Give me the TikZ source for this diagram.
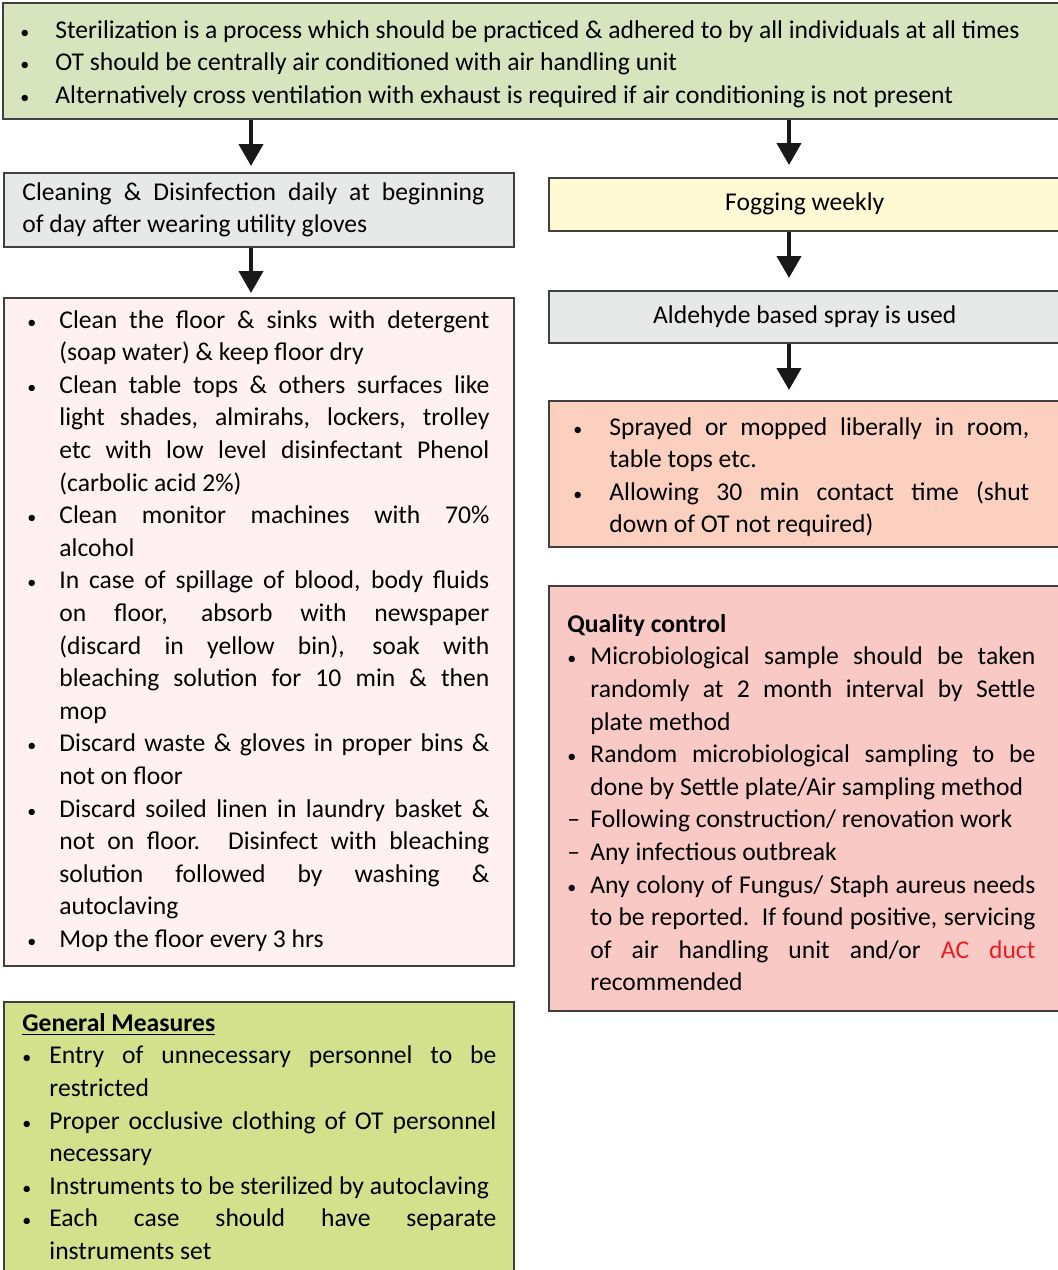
\documentclass[tikz,border=0pt]{standalone}
\usepackage{fontspec}
\setmainfont{Carlito}
\usepackage{enumitem}
\usetikzlibrary{positioning,arrows.meta}

\definecolor{framegrey}{RGB}{64,64,64}
\definecolor{topgreen}{RGB}{216,228,190}
\definecolor{cleangrey}{RGB}{231,233,232}
\definecolor{listpink}{RGB}{255,241,241}
\definecolor{fogyellow}{RGB}{255,250,211}
\definecolor{spraysalmon}{RGB}{251,208,191}
\definecolor{qcpink}{RGB}{249,201,198}
\definecolor{genlime}{RGB}{211,225,140}
\definecolor{ductred}{RGB}{237,28,36}

\newlist{ptlist}{itemize}{1}
\setlist[ptlist]{label={\small\textbullet}, labelindent=0pt, labelwidth=6pt, align=left,
  labelsep=*, itemsep=0pt, parsep=0pt, topsep=0pt, partopsep=0pt}
\newcommand{\dashmark}{\makebox[0pt][l]{\textendash}}

\tikzset{
    % boxes
    panel/.style={draw=framegrey, line width=0.75pt, anchor=north west,
                  inner sep=0pt, font=\fontsize{12.8}{16.3}\selectfont},
    % text inside the boxes
    words/.style={anchor=north west, inner sep=0pt, align=justify,
                  font=\fontsize{12.8}{16.3}\selectfont},
    % thick arrows
    arr/.style={-{Triangle[length=11pt,width=12pt]}, line width=2pt, draw=black!90}
}

\begin{document}
\begin{tikzpicture}[x=0.5pt, y=-0.5pt]
    \useasboundingbox (0,0) rectangle (1057,1270);
    \coordinate (leftcol) at (251,0);
    \coordinate (rightcol) at (789,0);

    % left column
    \node[panel, fill=topgreen, minimum width=530pt, minimum height=58pt] (top) at (2,2) {};
    \node[panel, fill=cleangrey, minimum width=255pt, minimum height=37pt] (clean) at (3,172) {};
    \node[panel, fill=listpink, minimum width=255pt, minimum height=334pt] (floor) at (3,297) {};
    \node[panel, fill=genlime, minimum width=255pt, minimum height=140pt] (general) at (3,1001) {};

    % right column
    \node[panel, fill=fogyellow, minimum width=256pt, minimum height=26.5pt] (fog) at (548,177) {Fogging weekly};
    \node[panel, fill=cleangrey, minimum width=256pt, minimum height=26pt] (aldehyde) at (548,290) {Aldehyde based spray is used};
    \node[panel, fill=spraysalmon, minimum width=256pt, minimum height=73pt] (sprayed) at (548,400) {};
    \node[panel, fill=qcpink, minimum width=256pt, minimum height=212.5pt] (quality) at (548,585) {};

    \node[words, text width=515pt] (toptext) at ([xshift=9pt,yshift=-1.5pt]top.north west) {%
      \begin{ptlist}[leftmargin=17.5pt]
        \item Sterilization is a process which should be practiced \& adhered to by all individuals at all times
        \item OT should be centrally air conditioned with air handling unit
        \item Alternatively cross ventilation with exhaust is required if air conditioning is not present
      \end{ptlist}};

    \node[words, text width=231pt] (cleantext) at ([xshift=9.5pt,yshift=-5pt]clean.north west) {%
      Cleaning \& Disinfection daily at beginning\linebreak of day after wearing utility gloves};

    \node[words, text width=231pt] (floortext) at ([xshift=12pt,yshift=1pt]floor.north west) {%
      \begin{ptlist}[leftmargin=16pt]
        \item Clean the floor \& sinks with detergent\linebreak (soap water) \& keep floor dry
        \item Clean table tops \& others surfaces like\linebreak light shades, almirahs, lockers, trolley\linebreak
              etc with low level disinfectant Phenol\linebreak (carbolic acid 2\%)
        \item Clean monitor machines with 70\%\linebreak alcohol
        \item In case of spillage of blood, body fluids\linebreak on floor, absorb with newspaper\linebreak
              (discard in yellow bin), soak with\linebreak bleaching solution for 10 min \& then\linebreak mop
        \item Discard waste \& gloves in proper bins \&\linebreak not on floor
        \item Discard soiled linen in laundry basket \&\linebreak not on floor. Disinfect with bleaching\linebreak
              solution followed by washing \&\linebreak autoclaving
        \item Mop the floor every 3 hrs
      \end{ptlist}};

    \node[words, text width=237pt] (generaltext) at ([xshift=9.5pt,yshift=-6pt]general.north west) {%
      \textbf{\underline{General Measures}}
      \begin{ptlist}[leftmargin=13.5pt]
        \item Entry of unnecessary personnel to be\linebreak restricted
        \item Proper occlusive clothing of OT personnel\linebreak necessary
        \item Instruments to be sterilized by autoclaving
        \item Each case should have separate\linebreak instruments set
      \end{ptlist}};

    \node[words, text width=228pt] (sprayedtext) at ([xshift=12.5pt,yshift=-1pt]sprayed.north west) {%
      \begin{ptlist}[leftmargin=18pt]
        \item Sprayed or mopped liberally in room,\linebreak table tops etc.
        \item Allowing 30 min contact time (shut\linebreak down of OT not required)
      \end{ptlist}};

    \node[words, text width=234pt] (qualitytext) at ([xshift=9.5pt,yshift=-14.5pt]quality.north west) {%
      \textbf{Quality control}
      \begin{ptlist}[leftmargin=11.5pt]
        \item Microbiological sample should be taken\linebreak randomly at 2 month interval by Settle\linebreak plate method
        \item Random microbiological sampling to be\linebreak done by Settle plate/Air sampling method
        \item[\dashmark] Following construction/ renovation work
        \item[\dashmark] Any infectious outbreak
        \item Any colony of Fungus/ Staph aureus needs\linebreak to be reported.\ \ If found positive, servicing\linebreak
              of air handling unit and/or \textcolor{ductred}{AC duct}\linebreak recommended
      \end{ptlist}};

    % connectors
    \draw[arr, shorten >=3pt] (top.south -| leftcol) -- (clean.north -| leftcol);
    \draw[arr, shorten >=2pt] (clean.south -| leftcol) -- (floor.north -| leftcol);
    \draw[arr, shorten >=6pt] (top.south -| rightcol) -- (fog.north -| rightcol);
    \draw[arr, shorten >=6pt] (fog.south -| rightcol) -- (aldehyde.north -| rightcol);
    \draw[arr, shorten >=5pt] (aldehyde.south -| rightcol) -- (sprayed.north -| rightcol);
\end{tikzpicture}
\end{document}
